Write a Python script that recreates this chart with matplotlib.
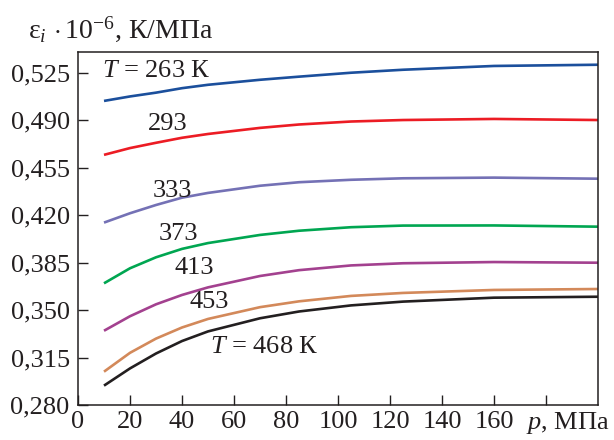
import matplotlib
matplotlib.use("Agg")
import matplotlib.pyplot as plt
from matplotlib.ticker import FuncFormatter, FixedLocator

plt.rcParams['font.family'] = ['Liberation Serif', 'DejaVu Serif']
plt.rcParams['mathtext.fontset'] = 'custom'
plt.rcParams['mathtext.rm'] = 'Liberation Serif'
plt.rcParams['mathtext.it'] = 'Liberation Serif:italic'

# Data
p = [10, 20, 30, 40, 50, 70, 85, 105, 125, 160, 200]
eps_263 = [0.5044, 0.5077, 0.5105, 0.5138, 0.5163, 0.5200, 0.5223, 0.5252, 0.5274, 0.5302, 0.5311]
eps_293 = [0.4646, 0.4696, 0.4735, 0.4772, 0.4800, 0.4845, 0.4870, 0.4892, 0.4903, 0.4911, 0.4903]
eps_333 = [0.4146, 0.4215, 0.4276, 0.4330, 0.4365, 0.4418, 0.4444, 0.4462, 0.4473, 0.4478, 0.4470]
eps_373 = [0.3698, 0.3809, 0.3890, 0.3952, 0.3995, 0.4055, 0.4086, 0.4112, 0.4124, 0.4125, 0.4116]
eps_413 = [0.3348, 0.3455, 0.3543, 0.3612, 0.3668, 0.3752, 0.3795, 0.3830, 0.3846, 0.3855, 0.3850]
eps_453 = [0.3046, 0.3185, 0.3290, 0.3372, 0.3435, 0.3522, 0.3565, 0.3605, 0.3627, 0.3649, 0.3656]
eps_468 = [0.2943, 0.3070, 0.3180, 0.3272, 0.3343, 0.3440, 0.3490, 0.3535, 0.3563, 0.3592, 0.3599]

series = [eps_263, eps_293, eps_333, eps_373, eps_413, eps_453, eps_468]
colors = ['#1b4f9c', '#ec1c24', '#7471b5', '#00a651', '#a3418f', '#d3895a', '#231f20']

labels = [r"$T$ = 263 К", "293", "333", "373", "413", "453", r"$T$ = 468 К"]
label_pos = [(9.2, 0.5265, 'left'), (34.4, 0.4877, 'center'), (36.2, 0.4379, 'center'),
             (38.7, 0.4062, 'center'), (44.6, 0.3811, 'center'), (50.4, 0.3560, 'center'),
             (50.8, 0.3228, 'left')]

yticks = [0.280, 0.315, 0.350, 0.385, 0.420, 0.455, 0.490, 0.525]
xticks = [0, 20, 40, 60, 80, 100, 120, 140, 160, 180]
xticklabels = ['0', '20', '40', '60', '80', '100', '120', '140', '160', '']

FS = 19

fig = plt.figure(figsize=(6.14, 4.40), dpi=100)
ax = fig.add_axes([78/614, 35/440, 520/614, 353/440])

for ys, c in zip(series, colors):
    ax.plot(p, ys, color=c, lw=1.9, solid_capstyle='butt', solid_joinstyle='round')

for txt, (x, y, ha) in zip(labels, label_pos):
    ax.text(x, y, txt, fontsize=FS, ha=ha, va='center', color='#231f20')

ax.set_xlim(0, 200)
ax.set_ylim(0.280, 0.5405)
ax.set_xticks(xticks)
ax.set_xticklabels(xticklabels)
ax.yaxis.set_major_locator(FixedLocator(yticks))
ax.yaxis.set_major_formatter(FuncFormatter(lambda v, pos: f"{v:.3f}".replace('.', ',')))

ax.tick_params(axis='both', direction='in', length=7, width=1.0, color='#231f20',
               labelsize=FS, labelcolor='#231f20')
ax.tick_params(axis='y', pad=6)
ax.tick_params(axis='x', pad=4)
for s in ax.spines.values():
    s.set_linewidth(1.1)
    s.set_color('#231f20')

ax.text(172.5, -0.0155, r"$p$, МПа", fontsize=FS, ha='left', va='top',
        color='#231f20', transform=ax.get_xaxis_transform(), clip_on=False)

fig.text(28/614, (440-38)/440, r"ε$_{i}\,\cdot$10$^{-6}$, К/МПа", fontsize=20,
         ha='left', va='baseline', color='#231f20')

fig.savefig("out.png", dpi=100)
